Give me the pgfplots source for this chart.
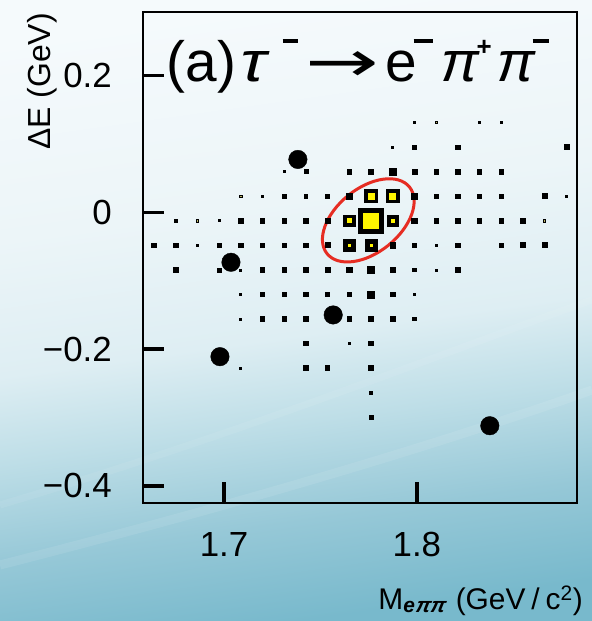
\documentclass[border=0pt]{standalone}
\usepackage{graphicx}
\usepackage{fontspec}
\setmainfont{Liberation Sans}
\newfontfamily\greek{Liberation Sans}[FakeSlant=0.2]
\newfontfamily\greekbf{Liberation Sans Bold}[FakeSlant=0.2]
\newfontfamily\dejavu{DejaVu Sans}
\usepackage{pgfplots}
\pgfplotsset{compat=1.18}
\usepackage{pgfplotstable}
\usetikzlibrary{shapes.geometric}

\definecolor{bgA}{RGB}{120,185,204}
\definecolor{bgB}{RGB}{150,200,215}
\definecolor{bgC}{RGB}{190,222,231}
\definecolor{bgD}{RGB}{222,238,243}
\definecolor{bgE}{RGB}{236,245,248}
\definecolor{bgT}{RGB}{245,250,252}
\definecolor{boxyellow}{RGB}{255,245,0}
\definecolor{ellred}{RGB}{230,45,35}
\definecolor{olivedot}{RGB}{185,180,100}
\pgfdeclareverticalshading{bgshade}{100bp}{color(0bp)=(bgA); color(25bp)=(bgA); color(33bp)=(bgB); color(41bp)=(bgC); color(48bp)=(bgD); color(59bp)=(bgE); color(75bp)=(bgT); color(100bp)=(bgT)}

% bin contents drawn as boxes: x, y = bin centre, o = box side (bp)
\pgfplotstableread{
x y o
1.7986 0.1315 2
1.8324 0.1315 2
1.8436 0.1315 2
1.7874 0.0956 2
1.7986 0.0956 3.5
1.8211 0.0956 4.5
1.8774 0.0956 5
1.7311 0.0597 2
1.7424 0.0597 4
1.7649 0.0597 4.5
1.7761 0.0597 4.5
1.7874 0.0597 6.5
1.7986 0.0597 5
1.8099 0.0597 4.5
1.8211 0.0597 4.5
1.8324 0.0597 4.5
1.8436 0.0597 4.5
1.7199 0.0238 2
1.7311 0.0238 4.5
1.7424 0.0238 3.5
1.7536 0.0238 4.5
1.7649 0.0238 5.5
1.7761 0.0238 13
1.7874 0.0238 13
1.7986 0.0238 5.5
1.8099 0.0238 4.5
1.8211 0.0238 4.5
1.8324 0.0238 4.5
1.8436 0.0238 4.5
1.8661 0.0238 5
1.8774 0.0238 2
1.6749 -0.0121 2.5
1.6974 -0.0121 2
1.7086 -0.0121 4.5
1.7199 -0.0121 4.5
1.7311 -0.0121 4.5
1.7424 -0.0121 4.5
1.7536 -0.0121 5
1.7649 -0.0121 11.5
1.7761 -0.0121 25
1.7874 -0.0121 11.5
1.7986 -0.0121 5.5
1.8099 -0.0121 4.5
1.8211 -0.0121 5
1.8324 -0.0121 4.5
1.8436 -0.0121 4.5
1.8549 -0.0121 5
1.6636 -0.0480 4.5
1.6749 -0.0480 4.5
1.6861 -0.0480 2
1.6974 -0.0480 4.5
1.7086 -0.0480 4.5
1.7199 -0.0480 4.5
1.7311 -0.0480 4.5
1.7424 -0.0480 4.5
1.7536 -0.0480 5
1.7649 -0.0480 12
1.7761 -0.0480 12
1.7874 -0.0480 5.5
1.7986 -0.0480 3.5
1.8099 -0.0480 2
1.8211 -0.0480 4.5
1.8436 -0.0480 4.5
1.8549 -0.0480 5
1.8661 -0.0480 5
1.6749 -0.0839 4.5
1.6974 -0.0839 4
1.7086 -0.0839 2
1.7199 -0.0839 4.5
1.7311 -0.0839 4.5
1.7424 -0.0839 4.5
1.7536 -0.0839 5
1.7649 -0.0839 5.5
1.7761 -0.0839 7
1.7874 -0.0839 5
1.7986 -0.0839 3.5
1.8099 -0.0839 2
1.8211 -0.0839 4.5
1.7086 -0.1198 2
1.7199 -0.1198 4.5
1.7311 -0.1198 4.5
1.7424 -0.1198 4.5
1.7536 -0.1198 4.5
1.7649 -0.1198 4.5
1.7761 -0.1198 7
1.7874 -0.1198 4.5
1.7986 -0.1198 2
1.7086 -0.1557 2
1.7199 -0.1557 4.5
1.7311 -0.1557 4.5
1.7424 -0.1557 4.5
1.7649 -0.1557 4.5
1.7761 -0.1557 5
1.7874 -0.1557 4.5
1.7986 -0.1557 3.5
1.7424 -0.1916 4.5
1.7649 -0.1916 2
1.7761 -0.1916 4.5
1.7086 -0.2275 2
1.7424 -0.2275 4.5
1.7536 -0.2275 4.5
1.7761 -0.2275 4.5
1.7761 -0.2635 2.5
1.7761 -0.2994 4
}\boxes

% yellow inner part of the largest boxes
\pgfplotstableread{
x y i
1.7761 0.0238 8
1.7874 0.0238 8
1.7649 -0.0121 6
1.7761 -0.0121 17
1.7874 -0.0121 5
1.7649 -0.0480 4.5
1.7761 -0.0480 4
}\inner

\begin{document}
\begin{tikzpicture}
\shade[shading=bgshade, shading angle=8] (-143bp,-118bp) rectangle (449bp,503bp);
\draw[white, opacity=0.09, line width=9bp] (-143bp,-62bp) .. controls (100bp,0bp) and (300bp,60bp) .. (449bp,113bp);
\draw[white, opacity=0.07, line width=7bp] (-143bp,-2bp) .. controls (100bp,70bp) and (300bp,150bp) .. (449bp,203bp);
\begin{axis}[
  at={(0,0)}, anchor=south west,
  scale only axis, width=434bp, height=491bp,
  xmin=1.658, xmax=1.883, ymin=-0.425, ymax=0.293,
  xtick={1.7,1.8}, xticklabels={1.7,1.8},
  ytick={-0.4,-0.2,0,0.2}, yticklabels={−0.4,−0.2,0,0.2},
  minor tick num=0,
  tick pos=left, tick align=inside,
  major tick length=21bp,
  tick style={line width=3.3bp, black},
  axis line style={line width=1.6bp, black},
  tick label style={font=\fontsize{35}{40}\selectfont, inner sep=0pt},
  xticklabel style={yshift=-29bp},
  yticklabel style={xshift=-31bp},
  xlabel={M\textsubscript{\bfseries\itshape e{\greekbf ππ}}\hspace{0.35em}(GeV\hspace{0.2em}/\hspace{0.2em}c\textsuperscript{2})},
  xlabel style={at={(axis description cs:1,0)}, anchor=base east, xshift=6bp, yshift=-106bp, inner sep=0pt, font=\fontsize{30}{34}\selectfont},
  ylabel={ΔE (GeV)},
  ylabel style={at={(axis description cs:-0.2327,0.998)}, anchor=east, inner sep=0pt, font=\fontsize{32}{38}\selectfont},
  clip=false,
]
\addplot[only marks, scatter, mark=square*,
  scatter/use mapped color={draw=none, fill=black},
  visualization depends on={\thisrow{o}/2 \as \ms},
  scatter/@pre marker code/.append style={/tikz/mark size=\ms bp}]
  table[x=x, y=y] {\boxes};
\addplot[only marks, scatter, mark=square*,
  scatter/use mapped color={draw=none, fill=boxyellow},
  visualization depends on={\thisrow{i}/2 \as \ms},
  scatter/@pre marker code/.append style={/tikz/mark size=\ms bp}]
  table[x=x, y=y] {\inner};
\addplot[only marks, mark=square*, mark size=1.1bp, mark options={draw=none, fill=olivedot}]
  coordinates {(1.8099,0.1315) (1.7086,0.0238) (1.6861,-0.0121) (1.8661,-0.0121)};
\node[draw=ellred, ellipse, line width=3bp, minimum width=106bp, minimum height=64bp, inner sep=0pt, rotate=39] at (axis cs:1.7748,-0.0117) {};
\addplot[only marks, mark=*, mark size=9.25bp, mark options={draw=none, fill=black}]
  coordinates {(1.6979,-0.211) (1.7036,-0.073) (1.7383,0.0774) (1.7566,-0.150) (1.8378,-0.312)};
\node[anchor=base west, inner sep=0pt, xshift=23.5bp, yshift=-69bp, font=\fontsize{57}{60}\selectfont]
  at (rel axis cs:0,1) {\makebox[70bp][l]{(a)}\makebox[46bp][l]{\scalebox{1.2}[1]{\greek τ}}\makebox[23bp][l]{\rule[38bp]{15bp}{4bp}}\makebox[80bp][l]{\scalebox{1.55}[1]{\dejavu →}}\makebox[28bp][l]{e}\makebox[24bp][l]{\rule[38bp]{19bp}{4bp}}\makebox[39bp][l]{\greek π}\makebox[17bp][l]{\raisebox{26bp}{\fontsize{26}{26}\selectfont\bfseries +}}\makebox[39bp][l]{\greek π}\rule[38bp]{16bp}{4bp}};
\end{axis}
\pgfresetboundingbox
\path (-143bp,-118bp) rectangle (449bp,503bp);
\end{tikzpicture}
\end{document}
